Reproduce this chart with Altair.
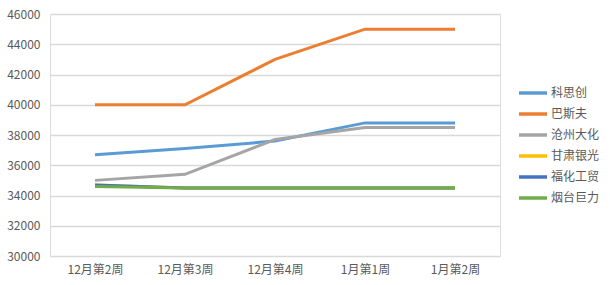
import altair as alt
import pandas as pd

weeks = ["12月第2周", "12月第3周", "12月第4周", "1月第1周", "1月第2周"]
series_names = ["科思创", "巴斯夫", "沧州大化", "甘肃银光", "福化工贸", "烟台巨力"]
colors = ["#5B9BD5", "#ED7D31", "#A5A5A5", "#FFC000", "#4472C4", "#70AD47"]

kesichuang = [36700, 37100, 37600, 38800, 38800]
basf = [40000, 40000, 43000, 45000, 45000]
cangzhou = [35000, 35400, 37700, 38500, 38500]
gansu = [34700, 34500, 34500, 34500, 34500]
fuhua = [34700, 34500, 34500, 34500, 34500]
yantai = [34600, 34500, 34500, 34500, 34500]

y_ticks = [30000, 32000, 34000, 36000, 38000, 40000, 42000, 44000, 46000]

all_vals = [kesichuang, basf, cangzhou, gansu, fuhua, yantai]
rows = []
for si, (name, vals) in enumerate(zip(series_names, all_vals)):
    for wi, (w, v) in enumerate(zip(weeks, vals)):
        rows.append({"week": w, "series": name, "value": v, "s_idx": si, "w_idx": wi})
df = pd.DataFrame(rows)

FONT = "Noto Sans CJK SC"
GRAY = "#595959"

chart = alt.Chart(df).mark_line(strokeWidth=3).encode(
    x=alt.X("week:N", sort=weeks, title=None,
            scale=alt.Scale(paddingInner=0, paddingOuter=0.5),
            axis=alt.Axis(labelAngle=0, labelFont=FONT, labelFontSize=12,
                          labelColor=GRAY, ticks=False, domain=False,
                          labelPadding=8, grid=False)),
    y=alt.Y("value:Q", title=None,
            scale=alt.Scale(domain=[30000, 46000], nice=False, zero=False),
            axis=alt.Axis(values=y_ticks, format="d", labelFont=FONT,
                          labelFontSize=12, labelColor=GRAY, ticks=False,
                          domain=False, labelPadding=10, gridColor="#D9D9D9",
                          gridWidth=1.3)),
    color=alt.Color("series:N", sort=series_names,
                    scale=alt.Scale(domain=series_names, range=colors),
                    legend=alt.Legend(title=None, orient="none",
                                      legendX=471, legendY=67,
                                      symbolType="M-1.4,0L1.4,0", symbolSize=400,
                                      symbolStrokeWidth=3.5, labelOffset=6,
                                      labelFont=FONT, labelFontSize=12,
                                      labelColor=GRAY, rowPadding=2)),
    order=alt.Order("w_idx:Q"),
    detail="s_idx:N",
).properties(
    width=450, height=242,
    autosize=alt.AutoSizeParams(type="none"),
    padding={"left": 50, "top": 14, "right": 110, "bottom": 29},
).configure_view(stroke=None).configure(background="white")

chart.save("out.html", embed_options={"renderer": "svg", "actions": False})
